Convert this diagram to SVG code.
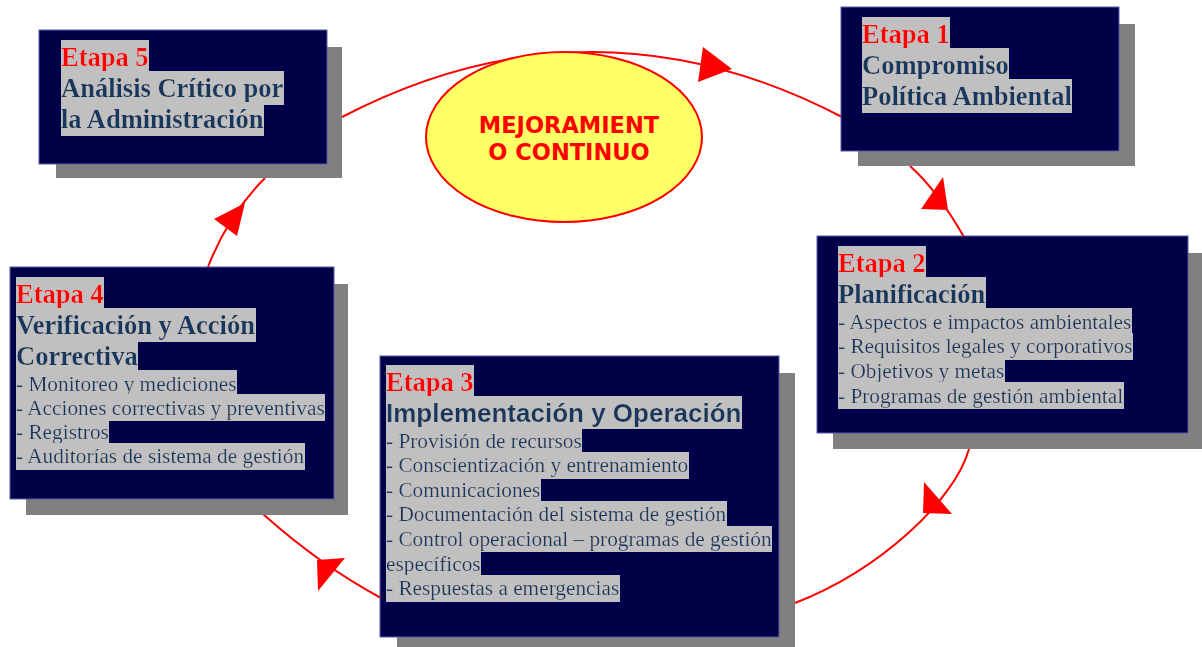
<svg xmlns="http://www.w3.org/2000/svg" width="1202" height="647" viewBox="0 0 1202 647">
  <style>
    .shadow { fill: #808080; }
    .box { fill: #000048; stroke: #5a5aa8; stroke-width: 1; }
    .link { fill: none; stroke: #ff0000; stroke-width: 2; }
    .head { fill: #ff0000; stroke: none; }
    .stage { font-family: "Liberation Serif", "Times New Roman", serif; font-weight: bold; font-size: 26.5px; fill: #ff0000; filter: url(#hl); }
    .title { font-family: "Liberation Serif", "Times New Roman", serif; font-weight: bold; font-size: 26.5px; fill: #17375e; filter: url(#hl); }
    .title-sans { font-family: "Liberation Sans", Arial, sans-serif; font-weight: bold; font-size: 26px; fill: #17375e; filter: url(#hl); }
    .item { font-family: "Liberation Serif", "Times New Roman", serif; font-size: 21.3px; fill: #17375e; filter: url(#hl); }
    .core { font-family: "DejaVu Sans", Verdana, sans-serif; font-weight: bold; font-size: 22.5px; fill: #ff0000; text-anchor: middle; }
  </style>
  <defs>
    <!-- grey band behind each line of text, sized to the line's box -->
    <filter id="hl" x="0" y="-0.04" width="1" height="1.08">
      <feFlood flood-color="#c0c0c0"/>
      <feComposite in="SourceGraphic" operator="over"/>
    </filter>
  </defs>

  <rect width="1202" height="647" fill="#ffffff"/>

  <!-- cycle connectors -->
  <g id="connectors">
    <path class="link" d="M342,117 Q592,-13 842,117"/>
    <polygon class="head" points="703,47 698,82 732,69"/>

    <path class="link" d="M910,166 Q937,190 964,237"/>
    <polygon class="head" points="943,177 921,209 948,210"/>

    <path class="link" d="M969,449 C955,500 880,570 795,603"/>
    <polygon class="head" points="924,482 952,514 923,513"/>

    <path class="link" d="M381,598 Q320,565 263,514"/>
    <polygon class="head" points="345,558 318,591 317,560"/>

    <path class="link" d="M208,267 Q228,215 265,178"/>
    <polygon class="head" points="214,219 237,236 245,203"/>
  </g>

  <!-- centre -->
  <g id="mejoramiento">
    <ellipse cx="564" cy="137" rx="138" ry="85" fill="#ffff66" stroke="#ff0000" stroke-width="2"/>
    <text class="core" x="569" y="133">MEJORAMIENT</text>
    <text class="core" x="569" y="160">O CONTINUO</text>
  </g>

  <g id="etapa1">
    <rect class="shadow" x="858" y="24" width="277" height="142"/>
    <rect class="box" x="841" y="7" width="278" height="144"/>
    <text class="stage" x="862" y="43">Etapa 1</text>
    <text class="title" x="862" y="74">Compromiso</text>
    <text class="title" x="862" y="105">Política Ambiental</text>
  </g>

  <g id="etapa2">
    <rect class="shadow" x="833" y="253" width="375" height="196"/>
    <rect class="box" x="817" y="236" width="371" height="197"/>
    <text class="stage" x="838" y="272">Etapa 2</text>
    <text class="title" x="838" y="303">Planificación</text>
    <text class="item" x="838" y="328.6">- Aspectos e impactos ambientales</text>
    <text class="item" x="838" y="353.3">- Requisitos legales y corporativos</text>
    <text class="item" x="838" y="378">- Objetivos y metas</text>
    <text class="item" x="838" y="402.6">- Programas de gestión ambiental</text>
  </g>

  <g id="etapa3">
    <rect class="shadow" x="397" y="373" width="398" height="280"/>
    <rect class="box" x="380" y="356" width="399" height="281"/>
    <text class="stage" x="386" y="391">Etapa 3</text>
    <text class="title-sans" x="386" y="421.7">Implementación y Operación</text>
    <text class="item" x="386" y="447.6">- Provisión de recursos</text>
    <text class="item" x="386" y="472.2">- Conscientización y entrenamiento</text>
    <text class="item" x="386" y="496.8">- Comunicaciones</text>
    <text class="item" x="386" y="521.4">- Documentación del sistema de gestión</text>
    <text class="item" x="386" y="546">- Control operacional – programas de gestión</text>
    <text class="item" x="386" y="570.6">específicos</text>
    <text class="item" x="386" y="595.2">- Respuestas a emergencias</text>
  </g>

  <g id="etapa4">
    <rect class="shadow" x="26" y="284" width="322" height="231"/>
    <rect class="box" x="10" y="267" width="324" height="232"/>
    <text class="stage" x="16" y="303">Etapa 4</text>
    <text class="title" x="16" y="334">Verificación y Acción</text>
    <text class="title" x="16" y="364.5">Correctiva</text>
    <text class="item" x="16" y="390.6">- Monitoreo y mediciones</text>
    <text class="item" x="16" y="414.8">- Acciones correctivas y preventivas</text>
    <text class="item" x="16" y="439">- Registros</text>
    <text class="item" x="16" y="463.4">- Auditorías de sistema de gestión</text>
  </g>

  <g id="etapa5">
    <rect class="shadow" x="56" y="47" width="286" height="131"/>
    <rect class="box" x="39" y="30" width="288" height="134"/>
    <text class="stage" x="61" y="66">Etapa 5</text>
    <text class="title" x="61" y="97">Análisis Crítico por</text>
    <text class="title" x="61" y="128">la Administración</text>
  </g>
</svg>
